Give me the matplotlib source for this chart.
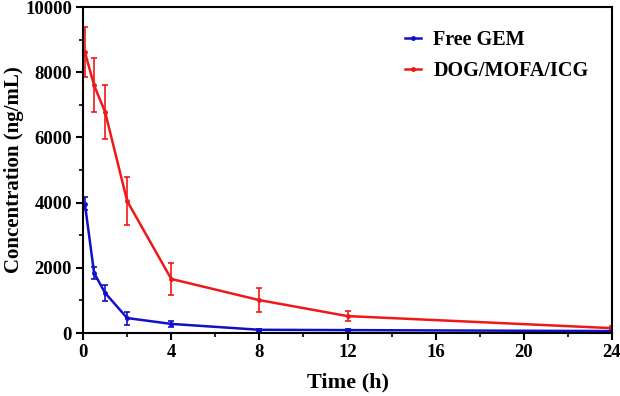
import numpy as np
import matplotlib.pyplot as plt
from matplotlib.ticker import MultipleLocator

plt.rcParams['font.family'] = ['Liberation Serif', 'DejaVu Serif']
plt.rcParams['font.weight'] = 'bold'

time_h = [0.083, 0.5, 1, 2, 4, 8, 12, 24]

free_gem = [3960, 1840, 1230, 460, 280, 100, 90, 60]
free_gem_err = [200, 180, 250, 200, 80, 30, 30, 20]

dog_mofa = [8620, 7600, 6780, 4050, 1660, 1010, 520, 150]
dog_mofa_err = [770, 830, 830, 730, 490, 370, 150, 80]

fig = plt.figure(figsize=(6.2, 3.96), dpi=100)
ax = fig.add_axes([0.134, 0.159, 0.853, 0.823])

e1 = ax.errorbar(time_h, free_gem, yerr=free_gem_err, color='#1010c8', lw=1.8,
                 marker='o', ms=2.5, capsize=2.5, elinewidth=1.2, capthick=1.2)
e2 = ax.errorbar(time_h, dog_mofa, yerr=dog_mofa_err, color='#f01818', lw=1.8,
                 marker='o', ms=2.5, capsize=2.5, elinewidth=1.2, capthick=1.2)

ax.set_xlim(0, 24)
ax.set_ylim(0, 10000)
ax.xaxis.set_major_locator(MultipleLocator(4))
ax.xaxis.set_minor_locator(MultipleLocator(2))
ax.yaxis.set_major_locator(MultipleLocator(2000))
ax.yaxis.set_minor_locator(MultipleLocator(1000))
ax.tick_params(which='major', direction='out', length=5, width=1.5, labelsize=13.5, pad=3)
ax.tick_params(which='minor', direction='out', length=3, width=1.2)
for s in ax.spines.values():
    s.set_linewidth(1.5)

ax.set_xlabel('Time (h)', fontsize=16, fontweight='bold', labelpad=8)
ax.set_ylabel('Concentration (ng/mL)', fontsize=15, fontweight='bold', labelpad=1)

ax.legend([e1[0], e2[0]], ['Free GEM', 'DOG/MOFA/ICG'], loc='upper right',
          frameon=False, fontsize=14.5, handlelength=0.8, handletextpad=0.6,
          labelspacing=0.55, bbox_to_anchor=(0.99, 0.985))

fig.savefig('out.png', dpi=100)
